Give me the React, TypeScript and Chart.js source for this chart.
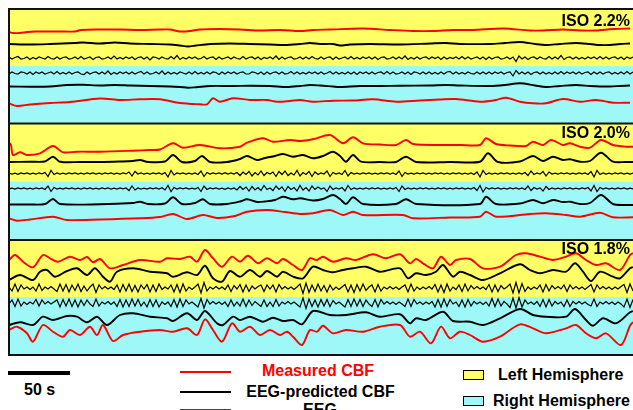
import React, { useEffect, useRef } from "react";
import { Chart, registerables } from "chart.js";

Chart.register(...registerables);

const FONT = '"Liberation Sans", Arial, Helvetica, sans-serif';

// ---------- text ----------
const panelLabels = ["ISO 2.2%", "ISO 2.0%", "ISO 1.8%"];
const legendSeries = ["Measured CBF", "EEG-predicted CBF", "EEG"];
const legendHemis = ["Left Hemisphere", "Right Hemisphere"];
const scaleBarLabel = "50 s";

const TIME_MAX = 624; // seconds shown
const EEG_STEP = 3; // seconds per EEG sample

type Pair = [number, number];

// ---------- ISO 2.2% ----------
const iso22CbfL: Pair[] = [[0,-1],[4,-2],[11,-2],[18,-1],[26,-0.5],[51,-0.5],[66,-0.5],[72,1],[91,1.5],[111,1.5],[131,1],[151,1.5],[161,1.5],[171,-0.5],[181,0],[191,1.5],[211,2],[231,1.5],[251,0.5],[271,1],[291,0],[304,1],[321,1.5],[354,2.5],[381,1],[404,0],[424,0],[444,1],[464,1],[494,2.5],[521,0.5],[534,0.5],[554,1.5],[571,0.5],[587,0.5],[604,2],[621,2.5]];
const iso22PredL: Pair[] = [[0,0],[21,-0.5],[41,0],[66,1],[74,1.5],[91,0.5],[106,1.5],[121,0.5],[141,0],[161,-0.5],[171,-1.5],[179,-2.5],[187,-1.5],[201,0],[221,0.5],[241,0],[261,-0.5],[276,-1],[291,0],[301,1],[311,0],[324,0],[331,-1.5],[341,-0.5],[361,0],[391,-0.5],[421,0.5],[437,1],[451,0],[481,0],[496,1],[511,2],[526,0],[537,-1],[551,0],[567,1],[581,0],[591,-1],[601,-1],[611,0],[621,0.5]];
const iso22EegL = [1,-1,0.5,1.5,-1,-0.5,1,-1.5,0.5,-1,1,0,-1,1.5,-0.5,-1,1,-1,0.5,1,
  -1,-0.5,1,-1,1.5,-1,0,1,-1.5,0.5,1,-1,-0.5,1,-1,2,-1,0.5,-1,1,
  -0.5,1,-1.5,0.5,1,-1,1,-2,1,0.5,-1,1,-0.5,-1,1.5,-1,2.5,-1.5,0.5,-1,
  1,-0.5,1,-1,-0.5,1.5,-1,0.5,1,-1.5,1,-1,0,1,-1,1,-0.5,-1,1.5,-1,
  0.5,1,-1,1,-1.5,0.5,-0.5,1,-1,2,-1.5,1,-1,0.5,1,-1,-0.5,1,-1,1,
  -1,1.5,-0.5,-1,1,-1,0.5,1,-1.5,1,-1,0,1,-1,1.5,-1,0.5,-1,1,-0.5,
  1,-1,1,-1.5,0.5,1,-1,-0.5,1,-1,1,-1,2,-1.5,0.5,-1,1,-1,0.5,1,
  -1,1,-0.5,1,-1.5,1,-1,0.5,-0.5,1,-1,1.5,-1,1,-1,0,1,-1,1,-1.5,
  1,-1,0.5,1,-1,-0.5,1,-1,1,-3.5,2,-1,1,-1.5,0.5,1,-1,1,-0.5,-1,
  1.5,-1,1,-1,2.5,-1.5,0.5,1,-1,1,-1,0.5,-1,1,-0.5,1,-1,1.5,-1,1,
  -1,0.5,1,-1,1,-1.5,1,-0.5,1];
const iso22EegR = [-1,1,-0.5,-1,1,0.5,-1,1,-1.5,1,-0.5,1,-1,0,1,-1,1.5,-1,0.5,-1,
  1,-1,0.5,1,-1,-1.5,1,-1,0.5,1,-1,1,-1,2,-1.5,0.5,-1,1,-0.5,1,
  -1,1,-1,0.5,1.5,-1,1,-1,-0.5,1,-1,2,-1.5,1,-1,0.5,-1,1,0,-1,
  1,-1,1.5,-1,0.5,-1,1,-1,1,0.5,-1.5,1,-1,1,-0.5,1,-1,0.5,1,-1,
  -1,1,0.5,-1,1,-1.5,1,-1,0.5,1,-1,1,-1,-0.5,1.5,-1,1,-1,0.5,-1,
  1,-0.5,1,-1,1,-1,0,1.5,-1,1,-1,0.5,-1,1,-1,1,-1.5,1,-0.5,1,
  -1,1,-1,0.5,1,-1,1.5,-1,1,-1,-0.5,1,-1,1,-1.5,1,0.5,-1,1,-1,
  1,-1,0.5,-1,1,-1,1,1.5,-1,1,-1,0.5,-1,1,-0.5,-1,1,-1,1,-1,
  1,-1,1,-0.5,1,-1,0.5,1,-3,2.5,-1,1,-1,1,-1.5,0.5,1,-1,1,-1,
  0.5,-1,1,-1,1.5,-1,1,-0.5,1,-1,1,-1,0.5,1,-1.5,1,-1,1,-1,0.5,
  1,-1,0.5,-1,1,-1,1.5,-1,1];
const iso22PredR: Pair[] = [[0,-0.5],[21,-0.7],[41,-0.5],[58,1],[74,1.2],[91,0.5],[106,1],[121,0.5],[141,0],[161,-0.5],[171,-1],[179,-1.7],[187,-1.2],[201,0],[224,0],[241,0.3],[261,0],[278,-1],[291,0],[301,1],[311,0.5],[324,-0.5],[331,-1],[351,0],[371,0],[391,0.3],[421,0.5],[437,1],[451,0.5],[481,0],[496,1],[511,2.7],[526,0.5],[537,-1],[551,0],[567,1],[581,0],[591,-0.5],[601,-0.5],[611,0],[621,0.5]];
const iso22CbfR: Pair[] = [[0,-1.3],[8,-4],[21,-2.5],[41,-1],[61,0],[91,3.5],[111,2],[131,2.7],[151,2.7],[171,-1],[191,-2.3],[198,-2.3],[204,3.7],[211,0.3],[224,3.7],[241,2],[258,2],[268,0.3],[281,1],[291,2],[304,0.3],[324,1.3],[344,1.5],[364,2.7],[387,0.3],[411,1.5],[431,2.5],[447,3],[471,0.3],[487,2],[497,4.3],[511,0.3],[524,-1.3],[537,-1.3],[554,3],[571,0.3],[587,2],[604,-0.7],[621,-0.7]];

// ---------- ISO 2.0% ----------
const iso20CbfL: Pair[] = [[0,5],[2,3],[4,-7],[11,-4.3],[18,-7],[31,-5.3],[44,2],[54,-4.3],[68,-3.7],[91,-3.7],[124,-2.7],[141,-2],[151,-1.5],[164,4.7],[174,0.3],[191,3],[211,-0.3],[231,1.3],[238,5.3],[254,9.7],[264,6.3],[281,8],[291,7],[304,8.7],[321,13],[334,4.7],[344,10.7],[354,4.7],[371,3.5],[387,3],[397,8],[404,4],[431,3],[451,3],[471,3],[477,9.7],[487,4],[501,2.5],[517,2],[524,6.3],[534,3],[542,8],[554,3],[561,4.7],[571,1.3],[581,0.3],[592,8],[604,3],[617,1.3],[624,1.3]];
const iso20PredL: Pair[] = [[0,0],[21,0.3],[36,0.5],[44,5.3],[51,0.3],[71,0],[91,0],[111,0.5],[124,1],[131,2],[139,0],[156,0.5],[164,7],[173,0],[186,1],[193,6],[201,0],[218,0],[231,3],[238,6],[248,2],[256,4],[266,6],[274,8],[284,5.3],[294,7],[304,3.7],[314,6],[324,10.3],[331,6],[337,0.3],[344,7],[352,0.3],[371,0],[387,0],[397,5.3],[407,0],[441,0],[471,0.3],[479,8.7],[489,0],[511,0.5],[524,6],[534,1],[544,5.3],[554,2],[561,2.7],[571,0.3],[581,1],[592,9.3],[604,0.3],[617,0],[624,0]];
const iso20EegL = [0.5,-0.5,0.3,-0.8,0.5,-0.3,0.6,-0.5,0.4,-0.6,0.5,-0.4,1,-3,3,-1,0.5,-0.5,0.3,-0.6,
  0.5,-0.4,0.6,-0.5,0.3,-0.5,0.6,-0.3,0.5,-0.6,0.4,-0.5,0.5,-0.4,0.6,-0.5,0.3,-0.6,0.5,-0.4,
  1.5,-2.5,2,-0.5,0.5,-0.6,0.4,-0.5,0.6,-0.4,0.5,-0.8,1,-3.5,3,-1.5,0.5,-0.4,0.6,-0.5,
  0.4,-0.6,0.5,-1,2.5,-3,1,-0.5,0.6,-0.4,0.5,-0.6,0.8,-0.5,0.5,-0.6,1,-2,1.5,-1,
  2,-2.5,1,-1.5,2.5,-2,1,-0.5,1.5,-3,2,-1,2.5,-2,0.5,-1.5,3,-2.5,1,-1,
  2,-3,1.5,-1,0.6,-0.5,2.5,-3,1,-0.5,0.6,-1,3,-2.5,1,-0.5,0.4,-0.6,0.5,-0.4,
  0.6,-0.5,0.4,-0.6,0.5,-0.4,0.6,-0.5,0.5,-1,2.5,-3,1,-0.5,0.4,-0.6,0.5,-0.4,0.6,-0.5,
  0.4,-0.6,0.5,-0.4,0.6,-0.5,0.3,-0.6,0.5,-0.4,0.6,-0.5,0.4,-0.6,0.5,-1,1.5,-3.5,3,-1,
  0.5,-0.5,0.4,-0.6,0.5,-0.4,0.6,-0.5,0.4,-0.6,0.5,-0.5,1,-2,2.5,-1,0.5,-0.6,2,-2.5,
  1.5,-0.5,0.4,-0.6,0.5,-0.4,0.6,-0.5,0.4,-0.6,0.5,-0.4,0.6,-1,2,-3.5,3,-1,0.5,-0.5,
  0.4,-0.6,0.5,-0.4,0.6,-0.5,0.4,-0.6,0.5];
const iso20EegR = [-0.5,0.4,-0.6,0.5,-0.3,0.6,-0.5,0.4,-0.6,0.5,-0.4,0.6,-1,2.5,-3,1,-0.5,0.4,-0.6,0.5,
  -0.4,0.6,-0.5,0.3,-0.6,0.5,-0.4,0.6,-0.5,0.4,-0.6,0.5,-0.4,0.5,-0.6,0.4,-0.5,0.6,-0.4,0.5,
  -2,2.5,-1.5,0.5,-0.6,0.4,-0.5,0.6,-0.4,0.5,-0.6,0.8,-1.5,3,-3,1,-0.5,0.6,-0.4,0.5,
  -0.6,0.4,-0.5,1,-3,2.5,-1,0.5,-0.4,0.6,-0.5,0.4,-0.8,0.5,-0.6,0.5,-1.5,2,-1,1.5,
  -2.5,2,-1.5,1,-2,3,-1,0.5,-2,2.5,-1,1.5,-3,2,-1,1,-2.5,3,-1.5,1,
  -2.5,2.5,-1,1.5,-0.5,0.6,-3,2.5,-1,0.5,-0.6,1,-2.5,3,-1,0.5,-0.6,0.4,-0.5,0.6,
  -0.5,0.6,-0.4,0.5,-0.6,0.4,-0.5,0.6,-0.5,1,-3,2.5,-1,0.5,-0.6,0.4,-0.5,0.6,-0.4,0.5,
  -0.6,0.4,-0.5,0.6,-0.4,0.5,-0.6,0.4,-0.5,0.6,-0.4,0.5,-0.6,0.4,-0.5,1,-2,3,-3.5,1,
  -0.5,0.6,-0.4,0.5,-0.6,0.4,-0.5,0.6,-0.4,0.5,-0.6,0.5,-1,2.5,-2,1,-0.5,0.6,-2.5,2,
  -1,0.5,-0.6,0.4,-0.5,0.6,-0.4,0.5,-0.6,0.4,-0.5,0.6,-0.4,1,-2.5,3,-3,1,-0.5,0.5,
  -0.6,0.4,-0.5,0.6,-0.4,0.5,-0.6,0.4,-0.5];
const iso20PredR: Pair[] = [[0,-0.5],[21,-0.5],[36,0],[44,5],[51,0],[91,-0.3],[124,1],[131,2.3],[139,0],[156,0.5],[164,6.7],[173,0],[186,1],[194,4.7],[201,0],[218,0],[231,2.5],[238,4.7],[248,2],[256,2.5],[266,4],[274,7.3],[284,4.7],[291,5.7],[304,3.5],[314,5],[324,9],[331,5],[337,0],[344,6.7],[354,0],[387,0],[397,4.7],[407,0],[471,0],[477,7.3],[487,0],[511,0.5],[524,4],[534,0.7],[544,4],[554,2],[561,2.3],[571,0],[581,1],[592,9],[604,0],[617,-1],[624,-1]];
const iso20CbfR: Pair[] = [[0,-1.3],[8,-3.7],[21,-2.5],[44,0.3],[58,-3],[91,-2.5],[131,-1.3],[151,0],[164,3],[178,-2],[194,2],[208,-1],[226,1],[238,5.3],[258,7],[276,5],[291,3],[304,3.7],[321,7],[334,2],[344,5.3],[354,2],[394,2],[404,-1.3],[441,-0.5],[471,0.3],[477,5.3],[487,0.3],[521,3],[537,3.7],[557,2],[571,0.3],[591,4.3],[604,-0.3],[624,-0.3]];

// ---------- ISO 1.8% ----------
const iso18CbfL: Pair[] = [[0,0],[6,5],[14,-1.7],[24,-7.3],[34,5],[41,1.7],[49,-1.7],[61,3.3],[71,0],[78,3],[84,-2.3],[91,1],[101,-8.3],[114,-5],[131,0],[151,-1.7],[158,1.7],[171,1],[181,3.3],[188,-1.7],[196,10],[204,1.7],[213,-6.7],[223,3.3],[231,-1.7],[239,4.3],[249,-3.3],[258,1.7],[268,-3.3],[274,1],[284,-5],[293,-10],[301,1.7],[308,0],[314,3.3],[324,-1.7],[337,1.7],[347,0],[364,5.7],[377,1.7],[391,5.7],[401,-3.3],[407,1],[414,-3.3],[424,-8.3],[432,3.3],[441,-5],[447,0],[461,1],[474,-8.3],[491,-6.7],[507,5],[517,6.7],[531,3.3],[544,0],[557,3.3],[567,6.7],[577,0],[587,-5],[597,-3.3],[611,-10],[621,5],[624,7]];
const iso18PredL: Pair[] = [[0,-6],[11,-1],[24,-6],[31,2.3],[38,4],[46,-2.7],[58,3],[68,5.7],[78,-1],[86,5.7],[94,-2.7],[101,-7.7],[108,2.3],[124,5.7],[141,2.3],[158,0.7],[164,-2.7],[178,1.7],[188,-1],[196,8.3],[204,-4.3],[213,-7.7],[221,3],[231,-2.7],[241,4],[251,-2.7],[258,3],[268,-2.7],[274,2.3],[284,-2.7],[294,-4.3],[304,7.3],[314,4],[324,1.7],[334,4],[344,5.7],[357,7.3],[371,2.3],[391,5.7],[399,-4.3],[407,0.7],[417,-1],[427,2.3],[434,9],[444,-2.7],[451,2.3],[461,-1],[474,-6],[491,0.7],[511,9.7],[521,4],[531,0.7],[544,4],[557,2.3],[566,10.7],[574,2.3],[582,-7],[591,2.3],[604,-2.7],[611,-4.3],[621,5.7],[624,7]];
const iso18EegL = [1,-3,4,-3.5,3,-1,1,-1.5,1,-3,4,-2.5,1,-1,1.5,-1,-3.5,4,-3,3.5,
  -4,3,-2.5,4,-3.5,2,-3,1,4,-4.5,3,-1,1.5,-1,1,-1.5,3,-4,3.5,-3,
  4,-3.5,2.5,-4,3,-1,3.5,-4,3,-3.5,4,-1.5,1,-1,3,-4,3.5,-4.5,4,-3,
  1,-1.5,1,4,-5,5.5,-3,1,-1,1.5,-1,1,-1.5,3,-3.5,2.5,-1,3.5,-4,3,
  -3.5,2,-1,1.5,3,-3.5,3,-1,3,-4,3.5,-1,1.5,-1,1,-1.5,1,4,-5.5,5,
  -4.5,3,-3.5,4,-3,2.5,-4,3,-2,1,-1.5,1,3.5,-4,3,-4.5,3.5,-3,4,-2.5,
  1,3,-4,3.5,-3,1,-1,1.5,-1,1,-1.5,1,3,-4,4,-3,1,-1.5,1,-1,
  1.5,-1,3.5,-4,3,-4.5,4,-3,1,-1.5,3,-3.5,4,-3,2.5,-1,1.5,-1,1,-1.5,
  3.5,-4,3,-3.5,2.5,-1,1,4,-5,5.5,-5,4.5,-3.5,1,-1.5,1,-1,3,-4,3.5,
  -3,2.5,-1,1.5,-1,3,-3.5,3,-1,1.5,-1,1,-1.5,1,3.5,-4,3,-1,1.5,-1,
  1,-1.5,1,-1,1.5,3.5,-4.5,4,-3];
const iso18EegR = [-1,3,-3.5,4,-3,1,-1.5,1,-1,3.5,-3,3,-1,1.5,-1,1,3,-4,3.5,-3,
  4,-3.5,3,-4,3,-2.5,3,-1,-3.5,4,-3,1,-1,1.5,-1.5,1,-3.5,3.5,-4,3,
  -3.5,4,-3,3.5,-3,1,-4,3.5,-3.5,3,-4,1,-1.5,1,-3.5,3.5,-4,4,-3.5,3,
  -1,1,-1.5,-4,4.5,-5,3.5,-1,1.5,-1,1,-1.5,1,-3.5,3,-3,1,-3,4,-3.5,
  3,-2.5,1.5,-1,-3.5,3,-3.5,1,-3.5,3.5,-3,1,-1,1.5,-1,1,-1.5,-4,5,-5.5,
  4,-3.5,3,-4,3.5,-3,3.5,-3.5,2.5,-1,1,-1.5,-4,3.5,-3.5,4,-3,3.5,-3.5,3,
  -1,-3.5,3.5,-4,3.5,-1,1.5,-1,1,-1.5,1,-1,-3.5,4,-3.5,3.5,-1,1,-1.5,1,
  -1,1.5,-4,3.5,-4,4,-3.5,3.5,-1,1,-3.5,3,-4,3.5,-3,1.5,-1,1,-1.5,1,
  -3,4.5,-3.5,4,-3,1.5,-1,-4.5,5,-5,5.5,-4,3,-1,1,-1.5,1.5,-3.5,3.5,-4,
  3.5,-3,1.5,-1,1,-3.5,3,-3.5,1.5,-1,1.5,-1,1,-1.5,-3,4,-3.5,1,-1,1.5,
  -1,1,-1.5,1,-1,-4,4,-4.5,3.5];
const iso18PredR: Pair[] = [[0,-7],[11,-4.3],[24,-7],[34,1.3],[44,-2],[58,2],[68,1.3],[78,-4.3],[88,1.3],[98,-7],[111,3],[124,4.7],[141,1.3],[158,-0.3],[164,-3],[178,4.7],[188,-2],[196,7],[208,-5.3],[214,-7],[224,1.3],[231,-2],[241,1.3],[254,-3.7],[264,0.3],[274,-3],[284,-2],[293,-6.3],[304,7],[321,3],[337,3],[357,5.7],[371,1.3],[391,3.7],[401,-5.3],[407,-0.3],[417,-2],[434,6.3],[444,-3],[461,-3.7],[474,-7],[491,-0.3],[511,9],[524,3],[537,1.3],[557,1.3],[566,9],[577,-2],[584,-7.7],[594,-0.3],[607,-5.3],[621,5.7],[624,7]];
const iso18CbfR: Pair[] = [[0,2],[8,5.3],[18,-1.3],[24,-9.7],[34,7],[44,0.3],[54,-4.7],[61,2],[71,-3],[81,5.3],[88,-3],[94,7],[104,-9],[114,-3],[131,0.3],[151,2],[164,0.3],[178,3.7],[188,-3],[196,12.7],[204,2],[213,-9.7],[223,8.7],[231,0.3],[241,5.3],[251,-3],[261,2],[271,-3],[278,0.3],[284,-4.7],[293,-13],[301,2],[308,0.3],[314,6.3],[324,-1.3],[337,2],[354,0.3],[371,5.3],[391,7],[401,-4.7],[411,0.3],[422,-11.3],[432,5.3],[441,-6.3],[451,0.3],[461,-3],[474,-9.7],[491,-4.7],[511,7.7],[524,3.7],[537,-1.3],[557,3.7],[567,7],[577,-1.3],[587,-6.3],[597,-1.3],[612,-13],[621,6.3],[624,10]];

// ---------- styles / layout ----------
const RED = "#ff0000";
const BLACK = "#000000";
const YELLOW = "#ffff66";
const CYAN = "#9ff8f8";
const BORDER = "#111111";

// vertical layout (scale units = pixels, 0 at bottom of last panel)
const Y_MAX = 346;
const PANEL_EDGES = [346, 231.5, 115, 0];
const PANEL_SPLITS = [289, 173.5, 58];

const panels = [
  { cbfL: iso22CbfL, predL: iso22PredL, eegL: iso22EegL, eegR: iso22EegR, predR: iso22PredR, cbfR: iso22CbfR, base: [324, 311, 297, 282, 269, 253] },
  { cbfL: iso20CbfL, predL: iso20PredL, eegL: iso20EegL, eegR: iso20EegR, predR: iso20PredR, cbfR: iso20CbfR, base: [207, 193, 181.5, 166.5, 151, 138] },
  { cbfL: iso18CbfL, predL: iso18PredL, eegL: iso18EegL, eegR: iso18EegR, predR: iso18PredR, cbfR: iso18CbfR, base: [95, 81, 67, 52, 37, 23] },
];

const fromPairs = (pairs: Pair[], base: number) => pairs.map(([t, v]) => ({ x: t, y: base + v }));
const fromEeg = (vals: number[], base: number) => vals.map((v, i) => ({ x: i * EEG_STEP, y: base + v }));

function buildDatasets() {
  const ds: any[] = [];
  const line = (data: any[], color: string, width: number, tension: number) => ({
    data, borderColor: color, borderWidth: width, tension, pointRadius: 0, fill: false,
  });
  for (const p of panels) {
    const [bCbfL, bPredL, bEegL, bEegR, bPredR, bCbfR] = p.base;
    ds.push(line(fromEeg(p.eegL, bEegL), BLACK, 1.2, 0));
    ds.push(line(fromEeg(p.eegR, bEegR), BLACK, 1.2, 0));
    ds.push(line(fromPairs(p.predL, bPredL), BLACK, 1.9, 0.3));
    ds.push(line(fromPairs(p.predR, bPredR), BLACK, 1.9, 0.3));
    ds.push(line(fromPairs(p.cbfL, bCbfL), RED, 1.9, 0.3));
    ds.push(line(fromPairs(p.cbfR, bCbfR), RED, 1.9, 0.3));
  }
  return ds;
}

const panelPlugin = {
  id: "panelBackgrounds",
  beforeDatasetsDraw(chart: any) {
    const { ctx, chartArea: a, scales } = chart;
    const y = scales.y;
    ctx.save();
    for (let i = 0; i < 3; i++) {
      const yt = y.getPixelForValue(PANEL_EDGES[i]);
      const ym = y.getPixelForValue(PANEL_SPLITS[i]);
      const yb = y.getPixelForValue(PANEL_EDGES[i + 1]);
      ctx.fillStyle = YELLOW;
      ctx.fillRect(a.left, yt, a.right - a.left, ym - yt);
      ctx.fillStyle = CYAN;
      ctx.fillRect(a.left, ym, a.right - a.left, yb - ym);
    }
    ctx.restore();
  },
  afterDatasetsDraw(chart: any) {
    const { ctx, chartArea: a, scales } = chart;
    const y = scales.y;
    ctx.save();
    ctx.strokeStyle = BORDER;
    ctx.lineWidth = 2;
    ctx.beginPath();
    for (const e of PANEL_EDGES) {
      const py = y.getPixelForValue(e);
      ctx.moveTo(a.left - 1, py);
      ctx.lineTo(a.right, py);
    }
    ctx.moveTo(a.left, y.getPixelForValue(Y_MAX) - 1);
    ctx.lineTo(a.left, y.getPixelForValue(0) + 1);
    ctx.stroke();
    ctx.restore();
  },
};

const abs = (o: React.CSSProperties): React.CSSProperties => ({ position: "absolute", ...o });
const textStyle = (o: React.CSSProperties): React.CSSProperties =>
  abs({ fontFamily: FONT, fontWeight: "bold", fontSize: 16, lineHeight: "16px", whiteSpace: "nowrap", color: "#000", ...o });

export default function App() {
  const ref = useRef<HTMLCanvasElement | null>(null);

  useEffect(() => {
    if (!ref.current) return;
    const chart = new Chart(ref.current, {
      type: "line",
      data: { datasets: buildDatasets() },
      options: {
        animation: false,
        responsive: false,
        devicePixelRatio: 1,
        layout: { padding: { left: 9, top: 9, right: 0, bottom: 2 } },
        scales: {
          x: { type: "linear", min: 0, max: TIME_MAX, display: false },
          y: { type: "linear", min: 0, max: Y_MAX, display: false },
        },
        plugins: { legend: { display: false }, tooltip: { enabled: false } },
        elements: { point: { radius: 0 } },
      },
      plugins: [panelPlugin],
    } as any);
    return () => chart.destroy();
  }, []);

  const labelTops = [12.5, 124.5, 240.5];

  return (
    <div style={abs({ left: 0, top: 0, width: 633, height: 410, overflow: "hidden", background: "#fff" })}>
      <canvas ref={ref} width={633} height={357} style={abs({ left: 0, top: 0, width: 633, height: 357 })} />
      {panelLabels.map((t, i) => (
        <div key={t} style={textStyle({ right: 3, top: labelTops[i] })}>{t}</div>
      ))}

      {/* scale bar */}
      <div style={abs({ left: 8, top: 371, width: 62, height: 4, background: "#000" })} />
      <div style={textStyle({ left: 24, top: 381.5 })}>{scaleBarLabel}</div>

      {/* series legend */}
      <div style={abs({ left: 180, top: 371, width: 51, height: 2, background: RED })} />
      <div style={textStyle({ left: 218, width: 200, textAlign: "center", top: 363.2, color: RED })}>{legendSeries[0]}</div>
      <div style={abs({ left: 180, top: 390.5, width: 51, height: 2, background: BLACK })} />
      <div style={textStyle({ left: 220.5, width: 200, textAlign: "center", top: 383.5 })}>{legendSeries[1]}</div>
      <div style={abs({ left: 180, top: 408.5, width: 51, height: 2, background: "#444" })} />
      <div style={textStyle({ left: 220, width: 200, textAlign: "center", top: 401.5 })}>{legendSeries[2]}</div>

      {/* hemisphere legend */}
      <div style={abs({ left: 463, top: 370, width: 21, height: 10, background: YELLOW, border: "1.5px solid #000", boxSizing: "border-box" })} />
      <div style={textStyle({ left: 498, top: 367 })}>{legendHemis[0]}</div>
      <div style={abs({ left: 463, top: 396, width: 21, height: 10, background: CYAN, border: "1.5px solid #000", boxSizing: "border-box" })} />
      <div style={textStyle({ left: 493, top: 393 })}>{legendHemis[1]}</div>
    </div>
  );
}
